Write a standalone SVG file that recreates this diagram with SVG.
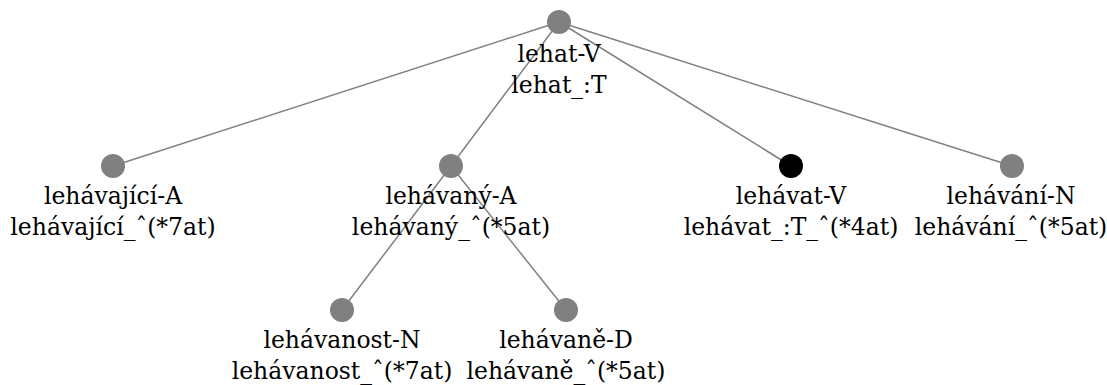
<svg xmlns="http://www.w3.org/2000/svg" width="1107" height="385" viewBox="0 0 1107 385">
<style>
.e{stroke:#808080;stroke-width:1.5;fill:none}
.n{fill:#808080}
.b{fill:#000}
.t{font-family:'DejaVu Serif',serif;font-size:23.5px;fill:#000;text-anchor:middle}
</style>
<rect width="1107" height="385" fill="#fff"/>
<g id="edges">
<line class="e" x1="559" y1="22" x2="113" y2="166"/>
<line class="e" x1="559" y1="22" x2="451" y2="166"/>
<line class="e" x1="559" y1="22" x2="791" y2="166"/>
<line class="e" x1="559" y1="22" x2="1012" y2="166"/>
<line class="e" x1="451" y1="166" x2="342" y2="310"/>
<line class="e" x1="451" y1="166" x2="566" y2="310"/>
</g>
<g id="root" class="t"><circle class="n" cx="559" cy="22" r="12"/><text x="559" y="62">lehat-V</text><text x="559" y="93">lehat_:T</text></g>
<g id="lehavajici" class="t"><circle class="n" cx="113" cy="166" r="12"/><text x="113" y="204">lehávající-A</text><text x="113" y="235">lehávající_ˆ(*7at)</text></g>
<g id="lehavany" class="t"><circle class="n" cx="451" cy="166" r="12"/><text x="451" y="204">lehávaný-A</text><text x="451" y="235">lehávaný_ˆ(*5at)</text></g>
<g id="lehavat" class="t"><circle class="b" cx="791" cy="166" r="12"/><text x="791" y="204">lehávat-V</text><text x="791" y="235">lehávat_:T_ˆ(*4at)</text></g>
<g id="lehavani" class="t"><circle class="n" cx="1012" cy="166" r="12"/><text x="1011" y="204">lehávání-N</text><text x="1011" y="235">lehávání_ˆ(*5at)</text></g>
<g id="lehavanost" class="t"><circle class="n" cx="342" cy="310" r="12"/><text x="342" y="348">lehávanost-N</text><text x="342" y="379">lehávanost_ˆ(*7at)</text></g>
<g id="lehavane" class="t"><circle class="n" cx="566" cy="310" r="12"/><text x="566" y="348">lehávaně-D</text><text x="566" y="379">lehávaně_ˆ(*5at)</text></g>
</svg>
